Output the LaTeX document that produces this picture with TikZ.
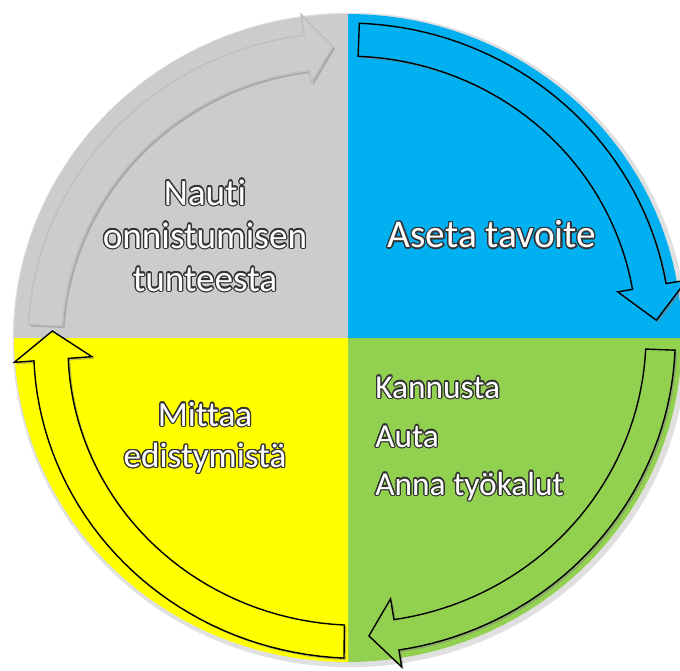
\documentclass[tikz,border=0pt]{standalone}
\usepackage{fontspec}
\setmainfont{Carlito}[Ligatures=NoCommon]
\usepackage{contour}
\usepackage{tikz}
\usetikzlibrary{shadows}
\contourlength{0.7pt}
\definecolor{qgrey}{HTML}{CCCCCC}
\definecolor{qblue}{HTML}{00B0F0}
\definecolor{qgreen}{HTML}{92D050}
\definecolor{qyellow}{HTML}{FFFF00}
% curved band arrow along the rim: tail, base, tip angle; radii at tail, at base; head radii
\newcommand{\ringarrow}[9]{%
  plot[domain=#1:#2, samples=40] (\x:{#5+(#7-#5)*(\x-(#1))/((#2)-(#1))})
  -- (#2:#9) -- (#3:{(#8+#9)/2}) -- (#2:#8)
  -- plot[domain=#2:#1, samples=40] (\x:{#4+(#6-#4)*(\x-(#1))/((#2)-(#1))}) -- cycle}
\newcommand{\outl}[1]{\contour{black!80}{#1}}

\begin{document}
\begin{tikzpicture}[
    x=0.02cm, y=-0.02cm,
    arr/.style={draw=black, line width=0.8pt, line join=miter,
        drop shadow={opacity=0.45, shadow xshift=1.2pt, shadow yshift=-1.2pt}},
    lbl/.style={text=white, font=\fontsize{20}{23.5}\selectfont, align=center, inner sep=0pt},
    item/.style={text=white, font=\fontsize{19}{23}\selectfont, anchor=base west, inner sep=0pt}
]
\path[use as bounding box] (0,0) rectangle (680,670);
\clip (0,0) rectangle (680,670);
\fill[white] (0,0) rectangle (680,670);

\begin{scope}[shift={(348,338)}, xscale=334, yscale=-324]
% quarters
\fill[black!12] (0.006,-0.006) ellipse (1.01 and 1.01);
\fill[qgrey] (0,0) -- plot[domain=90:180, samples=40] (\x:1) -- cycle;
\fill[qblue] (0,0) -- plot[domain=0:90, samples=40] (\x:1) -- cycle;
\fill[qgreen] (0,0) -- plot[domain=-90:0, samples=40] (\x:1) -- cycle;
\fill[qyellow] (0,0) -- plot[domain=180:270, samples=40] (\x:1) -- cycle;

% arrows
\draw[arr, fill=qgrey, draw=black!25] \ringarrow{177.5}{98}{92.9}{0.856}{0.958}{0.833}{0.944}{0.794}{1.008};
\draw[arr, fill=qblue] \ringarrow{88}{10}{3.4}{0.87}{0.972}{0.865}{0.967}{0.82}{1.03};
\draw[arr, fill=qgreen] \ringarrow{-2.2}{-81}{-86.1}{0.892}{0.98}{0.88}{0.975}{0.815}{1.028};
\draw[arr, fill=qyellow] \ringarrow{269.3}{184.3}{178.6}{0.886}{0.988}{0.84}{0.943}{0.769}{1.002};
\end{scope}

\node[lbl, font=\fontsize{21.2}{24.5}\selectfont] (nauti) at (205,236) {\outl{Nauti}\\\outl{onnistumisen}\\\outl{tunteesta}};
\node[lbl, font=\fontsize{22.4}{26}\selectfont] (aseta) at (492,235) {\outl{Aseta tavoite}};
\node[lbl] (mittaa) at (205,438) {\outl{Mittaa}\\\outl{edistymistä}};

\node[item] (kannusta) at (375,398) {\outl{Kannusta}};
\node[item] (auta) at (375,447) {\outl{Auta}};
\node[item] (anna) at (375,495) {\outl{Anna työkalut}};
\end{tikzpicture}
\end{document}
